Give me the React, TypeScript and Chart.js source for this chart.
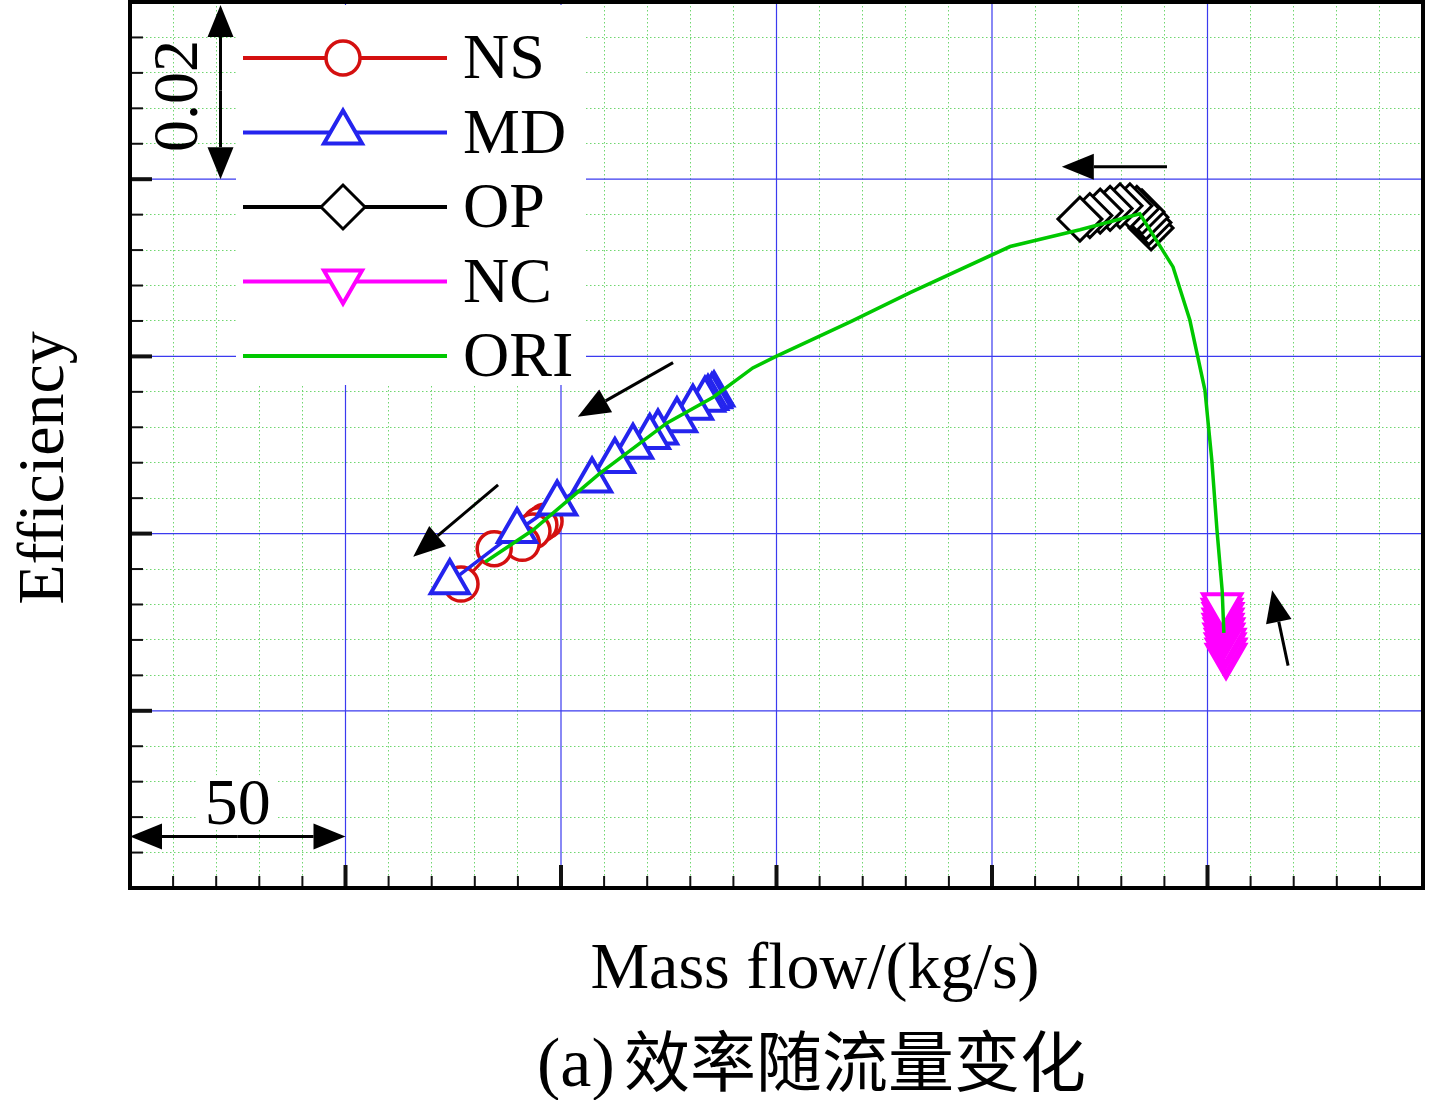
import { useEffect, useRef } from "react";
import { Chart, registerables } from "chart.js";
import { drawPoint } from "chart.js/helpers";

Chart.register(...registerables);

// values (mass flow in kg/s on an arbitrary origin, efficiency),
// listed in the direction of the arrows
const nsFlow = [96.3, 95.1, 93.5, 91.0, 84.5, 76.8];
const nsEff = [0.8414, 0.841, 0.8403, 0.8389, 0.8383, 0.8343];

const mdFlow = [135.5, 135.0, 134.1, 133.4, 130.6, 126.9, 122.5, 120.6, 116.7, 112.5, 107.2, 99.1, 89.8, 74.2];
const mdEff = [0.8557, 0.8555, 0.8553, 0.8551, 0.8542, 0.8528, 0.8514, 0.8509, 0.8498, 0.8482, 0.846, 0.8434, 0.8403, 0.8345];

const opFlow = [236.9, 236.4, 235.7, 234.8, 233.6, 232.0, 229.7, 227.4, 225.1, 222.7, 220.4];
const opEff = [0.8745, 0.8751, 0.8757, 0.8763, 0.8767, 0.877, 0.877, 0.8767, 0.8764, 0.8759, 0.8755];

const ncFlow = [254.3, 254.3, 254.1, 254.1, 253.8, 253.8, 253.6, 253.6, 253.6, 253.4, 253.4];
const ncEff = [0.8262, 0.8268, 0.8274, 0.8279, 0.8285, 0.8291, 0.8296, 0.8302, 0.8308, 0.8313, 0.8319];

const oriFlow = [82.4, 93.5, 109.0, 124.6, 135.3, 144.5, 149.9, 167.1, 181.0, 204.2, 220.4, 234.3, 242.0, 245.9, 249.4, 251.0, 252.2, 253.4, 253.8];
const oriEff = [0.8368, 0.8404, 0.8468, 0.8525, 0.8554, 0.8587, 0.86, 0.8639, 0.8672, 0.8724, 0.8743, 0.8761, 0.8701, 0.8641, 0.8562, 0.8483, 0.8404, 0.8336, 0.8288];

const seriesLabels = ["NS", "MD", "OP", "NC", "ORI"];

// axes (no tick labels in the figure, only scale bars)
const flowMin = 0;
const flowMax = 300;
const flowMinor = 10;
const flowMajor = 50;
const effMin = 0.8;
const effMax = 0.9;
const effMinor = 0.004;
const effMajor = 0.02;

const xTitle = "Mass flow/(kg/s)";
const yTitle = "Efficiency";
const captionTag = "(a)";
const captionText = "效率随流量变化";

// direction arrows, in data units [flow, eff]
const arrows = [
  { from: [240.6, 0.8814], to: [216.2, 0.8814] },
  { from: [126.0, 0.8593], to: [103.9, 0.8532] },
  { from: [85.4, 0.8455], to: [65.7, 0.8374] },
  { from: [268.7, 0.8251], to: [265.0, 0.8336] },
];

const SERIF = "'Liberation Serif', 'Times New Roman', serif";

const toPts = (xs: number[], ys: number[]) => xs.map((v, i) => ({ x: v, y: ys[i] }));

function arrowHead(ctx: CanvasRenderingContext2D, x1: number, y1: number, x2: number, y2: number, len = 32, half = 13) {
  const dx = x2 - x1;
  const dy = y2 - y1;
  const d = Math.hypot(dx, dy);
  const ux = dx / d;
  const uy = dy / d;
  const bx = x2 - ux * len;
  const by = y2 - uy * len;
  ctx.beginPath();
  ctx.moveTo(x1, y1);
  ctx.lineTo(bx, by);
  ctx.stroke();
  ctx.beginPath();
  ctx.moveTo(x2, y2);
  ctx.lineTo(bx - uy * half, by + ux * half);
  ctx.lineTo(bx + uy * half, by - ux * half);
  ctx.closePath();
  ctx.fill();
}

const figurePlugin = {
  id: "figure",
  beforeDatasetsDraw(chart: any) {
    const { ctx, chartArea: a, scales } = chart;
    const x = scales.x;
    const y = scales.y;
    ctx.save();
    ctx.strokeStyle = "#3b3bef";
    ctx.lineWidth = 1.2;
    ctx.beginPath();
    for (let v = flowMin + flowMajor; v < flowMax - 1e-9; v += flowMajor) {
      const px = x.getPixelForValue(v);
      ctx.moveTo(px, a.top);
      ctx.lineTo(px, a.bottom);
    }
    for (let i = 1; i < Math.round((effMax - effMin) / effMajor); i++) {
      const py = y.getPixelForValue(effMin + i * effMajor);
      ctx.moveTo(a.left, py);
      ctx.lineTo(a.right, py);
    }
    ctx.stroke();
    ctx.restore();
  },
  afterDraw(chart: any) {
    const { ctx, chartArea: a, scales } = chart;
    const x = scales.x;
    const y = scales.y;
    ctx.save();

    // inner ticks
    ctx.strokeStyle = "#111";
    const nx = Math.round((flowMax - flowMin) / flowMinor);
    for (let i = 1; i < nx; i++) {
      const major = i % Math.round(flowMajor / flowMinor) === 0;
      const px = x.getPixelForValue(flowMin + i * flowMinor);
      ctx.lineWidth = major ? 4 : 2;
      ctx.beginPath();
      ctx.moveTo(px, a.bottom);
      ctx.lineTo(px, a.bottom - (major ? 23 : 12));
      ctx.stroke();
    }
    const ny = Math.round((effMax - effMin) / effMinor);
    for (let i = 1; i < ny; i++) {
      const major = i % Math.round(effMajor / effMinor) === 0;
      const py = y.getPixelForValue(effMin + i * effMinor);
      ctx.lineWidth = major ? 4 : 2;
      ctx.beginPath();
      ctx.moveTo(a.left, py);
      ctx.lineTo(a.left + (major ? 22 : 13), py);
      ctx.stroke();
    }

    // frame
    ctx.strokeStyle = "#000";
    ctx.lineWidth = 4;
    ctx.strokeRect(a.left, a.top, a.right - a.left, a.bottom - a.top);

    // legend
    ctx.fillStyle = "#fff";
    ctx.fillRect(236, a.top + 3, 350, 380);
    chart.data.datasets.forEach((ds: any, i: number) => {
      const ly = 58 + i * 74.5;
      ctx.strokeStyle = ds.borderColor;
      ctx.lineWidth = 4;
      ctx.beginPath();
      ctx.moveTo(243, ly);
      ctx.lineTo(447, ly);
      ctx.stroke();
      if (ds.pointRadius > 0) {
        ctx.fillStyle = "#fff";
        ctx.strokeStyle = ds.borderColor;
        ctx.lineWidth = ds.pointBorderWidth;
        drawPoint(ctx, { pointStyle: ds.pointStyle, radius: ds.pointRadius, rotation: ds.pointRotation || 0, borderWidth: ds.pointBorderWidth }, 343, ly);
      }
      ctx.fillStyle = "#000";
      ctx.font = `64px ${SERIF}`;
      ctx.textAlign = "left";
      ctx.textBaseline = "alphabetic";
      ctx.fillText(ds.label, 463, ly + 20);
    });

    // scale bar for efficiency
    ctx.fillStyle = "#000";
    ctx.strokeStyle = "#000";
    ctx.lineWidth = 3;
    const bx = x.getPixelForValue(21);
    const byTop = y.getPixelForValue(effMax);
    const byBot = y.getPixelForValue(effMax - effMajor);
    const byMid = (byTop + byBot) / 2;
    arrowHead(ctx, bx, byMid, bx, byTop + 3, 32, 13);
    arrowHead(ctx, bx, byMid, bx, byBot, 32, 13);
    ctx.save();
    ctx.translate(x.getPixelForValue(10.9) + 20, y.getPixelForValue(0.8894));
    ctx.rotate(-Math.PI / 2);
    ctx.font = `64px ${SERIF}`;
    ctx.textAlign = "center";
    ctx.textBaseline = "alphabetic";
    ctx.fillText(effMajor.toFixed(2), 0, 0);
    ctx.restore();

    // scale bar for mass flow
    const sy = y.getPixelForValue(0.8058);
    const sx0 = x.getPixelForValue(flowMin);
    const sx1 = x.getPixelForValue(flowMin + flowMajor);
    const sMid = (sx0 + sx1) / 2;
    arrowHead(ctx, sMid, sy, sx0, sy, 32, 13);
    arrowHead(ctx, sMid, sy, sx1, sy, 32, 13);
    const tx = x.getPixelForValue(25);
    const ty = y.getPixelForValue(0.8098);
    ctx.fillStyle = "#fff";
    ctx.fillRect(tx - 40, ty - 26, 80, 54);
    ctx.fillStyle = "#000";
    ctx.font = `66px ${SERIF}`;
    ctx.textAlign = "center";
    ctx.textBaseline = "alphabetic";
    ctx.fillText(String(flowMajor), tx, ty + 23);

    // direction arrows
    arrows.forEach((ar) => {
      arrowHead(
        ctx,
        x.getPixelForValue(ar.from[0]),
        y.getPixelForValue(ar.from[1]),
        x.getPixelForValue(ar.to[0]),
        y.getPixelForValue(ar.to[1]),
        32,
        13,
      );
    });

    // titles
    ctx.fillStyle = "#000";
    ctx.font = `66px ${SERIF}`;
    ctx.textAlign = "center";
    ctx.textBaseline = "alphabetic";
    ctx.fillText(xTitle, 815, a.bottom + 100);
    ctx.save();
    ctx.translate(63, 468);
    ctx.rotate(-Math.PI / 2);
    ctx.fillText(yTitle, 0, 0);
    ctx.restore();

    ctx.textAlign = "left";
    ctx.font = `70px ${SERIF}`;
    ctx.fillText(captionTag, 537, 1086);
    ctx.font = `66px 'Noto Sans CJK SC', sans-serif`;
    ctx.fillText(captionText, 624, 1086);

    ctx.restore();
  },
};

export default function App() {
  const canvasRef = useRef<HTMLCanvasElement | null>(null);

  useEffect(() => {
    if (!canvasRef.current) return;
    const minorGrid = "#6fd66f";

    const chart = new Chart(canvasRef.current, {
      type: "scatter",
      data: {
        datasets: [
          {
            label: seriesLabels[0],
            data: toPts(nsFlow, nsEff),
            showLine: true,
            borderColor: "#d41010",
            borderWidth: 3,
            pointStyle: "circle",
            pointRadius: 17,
            pointBorderWidth: 3.5,
            pointBackgroundColor: "#fff",
            pointBorderColor: "#d41010",
            order: 2,
          },
          {
            label: seriesLabels[1],
            data: toPts(mdFlow, mdEff),
            showLine: true,
            borderColor: "#2424ee",
            borderWidth: 3.5,
            pointStyle: "triangle",
            pointRadius: 22,
            pointBorderWidth: 4,
            pointBackgroundColor: "#fff",
            pointBorderColor: "#2424ee",
            order: 1,
          },
          {
            label: seriesLabels[2],
            data: toPts(opFlow, opEff),
            showLine: true,
            borderColor: "#000",
            borderWidth: 3,
            pointStyle: "rectRot",
            pointRadius: 22,
            pointBorderWidth: 3,
            pointBackgroundColor: "#fff",
            pointBorderColor: "#000",
            order: 3,
          },
          {
            label: seriesLabels[3],
            data: toPts(ncFlow, ncEff),
            showLine: true,
            borderColor: "#ff00ff",
            borderWidth: 3,
            pointStyle: "triangle",
            pointRotation: 180,
            pointRadius: 22,
            pointBorderWidth: 4,
            pointBackgroundColor: "#fff",
            pointBorderColor: "#ff00ff",
            order: 4,
          },
          {
            label: seriesLabels[4],
            data: toPts(oriFlow, oriEff),
            showLine: true,
            borderColor: "#00c800",
            borderWidth: 3.5,
            pointRadius: 0,
            order: 0,
          },
        ],
      },
      options: {
        responsive: false,
        animation: false,
        layout: { autoPadding: false, padding: { left: 130, top: 2, right: 18, bottom: 212 } },
        plugins: { legend: { display: false }, tooltip: { enabled: false } },
        scales: {
          x: {
            type: "linear",
            min: flowMin,
            max: flowMax,
            ticks: { display: false, stepSize: flowMinor },
            grid: {
              drawTicks: false,
              lineWidth: 1,
              color: (c: any) => (Math.round(c.tick.value) % flowMajor === 0 ? "rgba(0,0,0,0)" : minorGrid),
            },
            border: { display: false, dash: [1.5, 2.5] },
          },
          y: {
            type: "linear",
            min: effMin,
            max: effMax,
            ticks: { display: false, stepSize: effMinor },
            grid: {
              drawTicks: false,
              lineWidth: 1,
              color: (c: any) =>
                Math.round((c.tick.value - effMin) / effMinor) % Math.round(effMajor / effMinor) === 0
                  ? "rgba(0,0,0,0)"
                  : minorGrid,
            },
            border: { display: false, dash: [1.5, 2.5] },
          },
        },
      },
      plugins: [figurePlugin],
    });

    return () => {
      chart.destroy();
    };
  }, []);

  return (
    <div style={{ width: 1441, height: 1100, background: "#fff" }}>
      <style>{"body{margin:0;background:#fff}"}</style>
      <canvas ref={canvasRef} width={1441} height={1100} style={{ display: "block" }} />
    </div>
  );
}
